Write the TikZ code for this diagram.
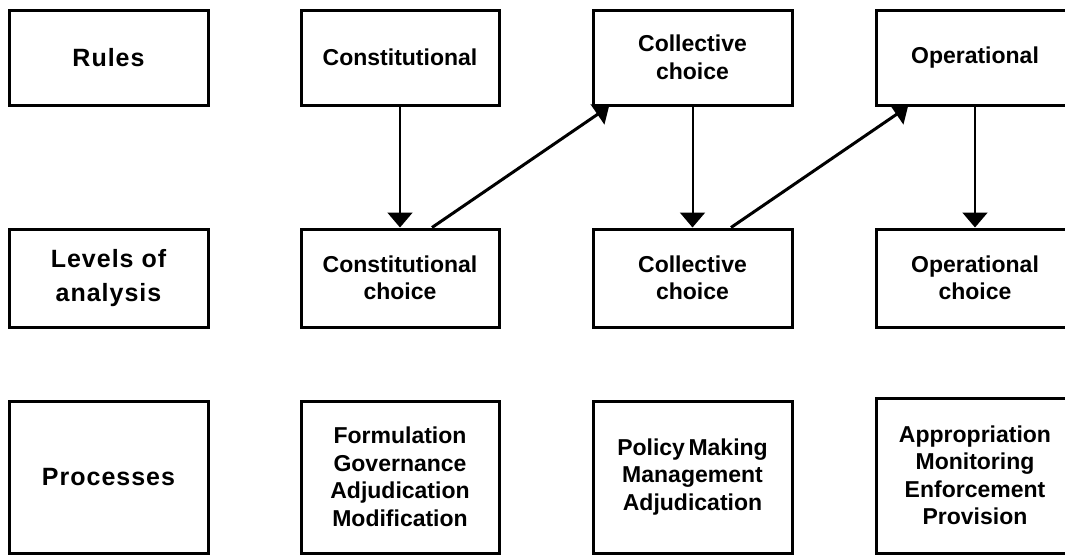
\documentclass[tikz,border=0pt]{standalone}
\usepackage{fontspec}
\setmainfont{Liberation Sans}
\usetikzlibrary{arrows.meta}
\begin{document}
\begin{tikzpicture}[x=1pt,y=-1pt,
  frame/.style={draw, line width=3pt, rectangle, inner sep=0pt, align=center},
  box/.style={frame, font=\fontsize{23}{27.5}\selectfont\bfseries},
  lab/.style={frame, font=\fontsize{25}{33.3}\selectfont\bfseries\addfontfeature{LetterSpace=4}},
  varr/.style={line width=2pt, -{Triangle[width=25pt,length=15pt]}},
  darr/.style={line width=3pt, -{Triangle[width=24pt,length=14pt]}},
]
\useasboundingbox (0,0) rectangle (1065,554);
% row 1
\node[lab, minimum width=199pt, minimum height=95pt] (rules) at (108.5,57.5) {Rules};
\node[box, minimum width=198pt, minimum height=95pt] (conR) at (400,57.5) {Constitutional};
\node[box, minimum width=199pt, minimum height=95pt] (colR) at (692.5,57.5) {Collective\\choice};
\node[box, minimum width=198pt, minimum height=95pt] (opR) at (975,57.5) {Operational};
% row 2
\node[lab, minimum width=199pt, minimum height=98pt] (levels) at (108.5,278) {Levels of\\analysis};
\node[box, minimum width=198pt, minimum height=98pt] (conL) at (400,278) {Constitutional\\choice};
\node[box, minimum width=199pt, minimum height=98pt] (colL) at (692.5,278) {Collective\\choice};
\node[box, minimum width=198pt, minimum height=98pt] (opL) at (975,278) {Operational\\choice};
% row 3
\node[lab, minimum width=199pt, minimum height=152pt] (proc) at (108.5,477) {Processes};
\node[box, minimum width=198pt, minimum height=152pt] (conP) at (400,477) {Formulation\\Governance\\Adjudication\\Modification};
\node[box, minimum width=199pt, minimum height=152pt] (colP) at (692.5,477) {Policy\hspace{3.5pt}Making\\Management\\Adjudication};
\node[box, minimum width=198pt, minimum height=155pt] (opP) at (975,475.5) {Appropriation\\Monitoring\\Enforcement\\Provision};
% arrows
\draw[varr] (conR) -- (conL);
\draw[varr] (colR) -- (colL);
\draw[varr] (opR) -- (opL);
\draw[darr] ([xshift=32pt]conL.north) -- ([xshift=-83.5pt]colR.south);
\draw[darr] ([xshift=38.5pt]colL.north) -- ([xshift=-67pt]opR.south);
\end{tikzpicture}
\end{document}
